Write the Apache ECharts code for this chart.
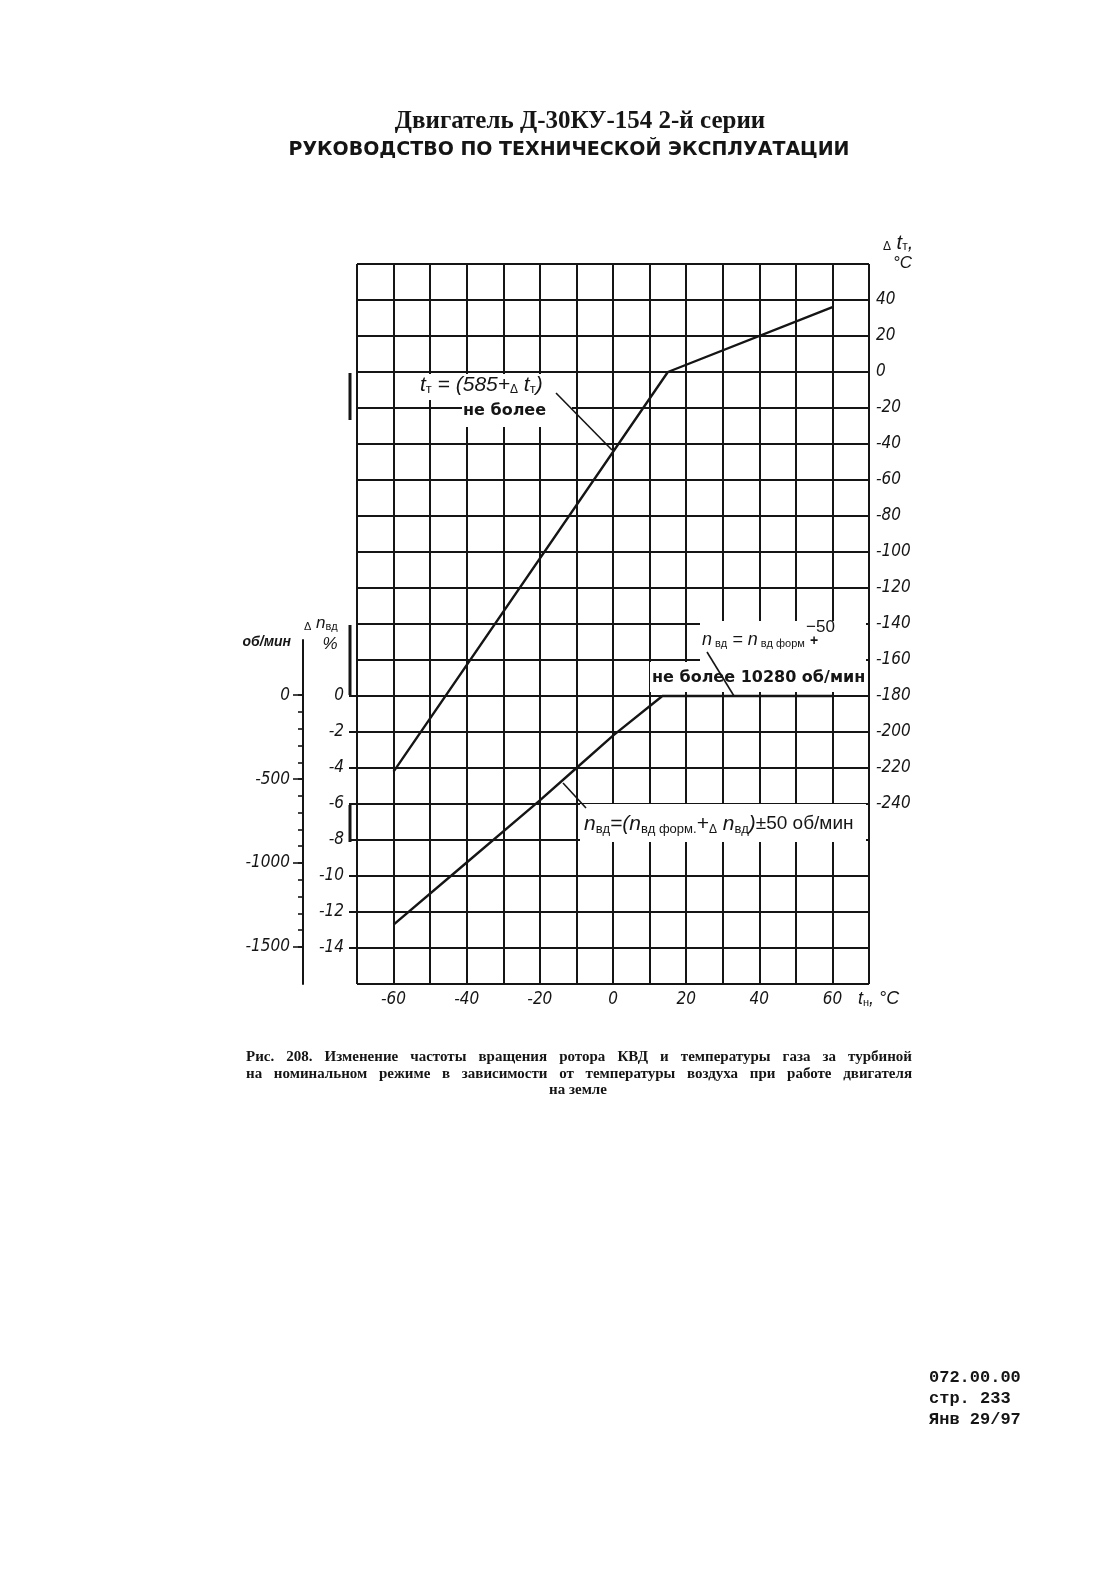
<!DOCTYPE html>
<html><head><meta charset="utf-8">
<script src="https://cdn.jsdelivr.net/npm/echarts@6/dist/echarts.min.js"></script>
<style>html,body{margin:0;padding:0;background:#fff}#c{width:1116px;height:1572px}</style>
</head><body><div id="c"></div>
<script>
// ---- data ----
const tempT = [-60, 15, 60];                 // t_н, °C  (gas temperature curve)
const deltaT = [-222, 0, 36];                // Δt_T, °C
const tempN = [-60, -40, -20, -10, 0, 13.5, 60];   // t_н, °C (rotor speed curve)
const deltaN = [-12.7, -9.25, -5.8, -4.0, -2.2, 0, 0]; // Δn_вд, %
const xTickLabels = [-60, -40, -20, 0, 20, 40, 60];
const dtTickLabels = [40, 20, 0, -20, -40, -60, -80, -100, -120, -140, -160, -180, -200, -220, -240];
const pctTickLabels = [0, -2, -4, -6, -8, -10, -12, -14];
const rpmTickLabels = [0, -500, -1000, -1500];
const rpmMinorTicks = [0, -100, -200, -300, -400, -500, -600, -700, -800, -900, -1000, -1100, -1200, -1300, -1400, -1500];
const captionLines = [
  'Рис. 208. Изменение частоты вращения ротора КВД и температуры газа за турбиной',
  'на номинальном режиме в зависимости от температуры воздуха при работе двигателя',
  'на земле'
];
const footerLines = ['072.00.00', 'стр. 233', 'Янв 29/97'];

const INK = '#151515';
const TICKFONT = "'Liberation Sans Narrow','DejaVu Sans Condensed',sans-serif";
const ITAL = "'Liberation Sans',sans-serif";

const chart = echarts.init(document.getElementById('c'), null, {renderer: 'canvas'});

const mctx = document.createElement('canvas').getContext('2d');
function justify(text, x0, x1, y, font) {
  mctx.font = font;
  const words = text.split(' ');
  const widths = words.map(w => mctx.measureText(w).width);
  const total = widths.reduce((a, b) => a + b, 0);
  const gap = (x1 - x0 - total) / (words.length - 1);
  let x = x0;
  return words.map((w, i) => {
    const el = {type: 'text', x: x, y: y, z: 20,
      style: {text: w, font: font, fill: INK, textAlign: 'left', align: 'left', textVerticalAlign: 'middle', verticalAlign: 'middle'}};
    x += widths[i] + gap;
    return el;
  });
}
function txt(x, y, text, font, align) {
  return {type: 'text', x: x, y: y, z: 20,
    style: {text: text, font: font, fill: INK, textAlign: align || 'left', align: align || 'left',
      textVerticalAlign: 'middle', verticalAlign: 'middle'}};
}
function rich(x, y, text, richStyles, align) {
  return {type: 'text', x: x, y: y, z: 20,
    style: {text: text, rich: richStyles, fill: INK, textAlign: align || 'left', align: align || 'left',
      textVerticalAlign: 'middle', verticalAlign: 'middle'}};
}
function seg(x1, y1, x2, y2, w) {
  return {type: 'line', z: 21, shape: {x1, y1, x2, y2}, style: {stroke: INK, lineWidth: w || 1.6}};
}
function box(x, y, w, h) {
  return {type: 'rect', z: 15, shape: {x, y, width: w, height: h}, style: {fill: '#fff'}};
}

const itS = (size) => ({font: `italic ${size}px ${ITAL}`, fill: INK, verticalAlign: 'middle'});
const subS = (size, pad) => ({font: `${size}px ${ITAL}`, fill: INK, verticalAlign: 'bottom', padding: [pad || 8, 0, 0, 0]});
const tri = (size) => ({font: `${size}px ${ITAL}`, fill: INK, verticalAlign: 'bottom', padding: [4, 0, 0, 0]});

const graphics = [
  // title
  txt(580, 122, 'Двигатель Д-30КУ-154 2-й серии', "bold 25px 'Liberation Serif',serif", 'center'),
  txt(569, 150, 'РУКОВОДСТВО ПО ТЕХНИЧЕСКОЙ ЭКСПЛУАТАЦИИ', "bold 19px 'DejaVu Sans',sans-serif", 'center'),
  // right axis header
  rich(883, 243, '{a|Δ}{i| t}{s|т}{i|,}', {a: tri(12), i: itS(20), s: subS(12)}),
  txt(893, 263, '°C', `italic 17px ${ITAL}`, 'left'),
  // left axes headers
  rich(304, 623, '{a|Δ}{i| n}{s|вд}', {a: tri(11), i: itS(17), s: subS(11)}),
  txt(330, 644, '%', `italic 17px ${ITAL}`, 'center'),
  txt(291, 642, 'об/мин', `italic bold 14px ${ITAL}`, 'right'),
  // remnants of the % axis line
  seg(350, 373, 350, 420, 3), seg(350, 625, 350, 695, 3), seg(350, 805, 350, 842, 3),
  // x axis name
  rich(858, 999, '{i|t}{s|н}{i|, °C}', {i: itS(18), s: subS(11)}),
  // annotation 1
  box(415, 374, 148, 26), box(462, 399, 110, 28),
  rich(420, 385, '{i|t}{s|т}{i| = (585+}{a|Δ}{i| t}{s|т}{i|)}', {i: itS(21), s: subS(13), a: tri(12)}),
  txt(463, 411, 'не более', "bold 16px 'DejaVu Sans',sans-serif", 'left'),
  seg(556, 393, 612, 450),
  // annotation 2
  box(700, 621, 166, 42), box(650, 662, 216, 30),
  rich(702, 640, '{i|n}{s| вд}{i| = n}{s| вд форм}', {i: itS(18), s: subS(11)}),
  txt(806, 627, '−50', `17px ${ITAL}`, 'left'),
  txt(810, 641, '+', `bold 14px ${ITAL}`, 'left'),
  txt(652, 678, 'не более 10280 об/мин', "bold 16px 'DejaVu Sans',sans-serif", 'left'),
  seg(707, 652, 734, 696),
  // annotation 3
  box(580, 804, 286, 38),
  rich(584, 824, '{i|n}{s|вд}{i|=(n}{s|вд форм.}{i|+}{a|Δ}{i| n}{s|вд}{i|)}{r|±50 об/мин}',
       {i: itS(21), s: subS(13, 10), a: tri(12), r: {font: "19px 'Liberation Sans',sans-serif", fill: INK, verticalAlign: 'middle'}}),
  seg(563, 783, 586, 808)
];
// caption
const capFont = "bold 15px 'Liberation Serif',serif";
graphics.push(...justify(captionLines[0], 246, 912, 1057, capFont));
graphics.push(...justify(captionLines[1], 246, 912, 1074, capFont));
graphics.push(txt(578, 1090, captionLines[2], capFont, 'center'));
// footer
footerLines.forEach((s, i) => graphics.push(txt(929, [1378, 1399, 1420][i], s, "bold 17px 'Liberation Mono',monospace", 'left')));

const tickFontStyle = {fontFamily: TICKFONT, fontStyle: 'italic', fontSize: 17, color: INK};
const gridLine = {show: true, lineStyle: {color: INK, width: 2}};

const option = {
  animation: false,
  backgroundColor: '#fff',
  grid: [
    {left: 357, top: 264, width: 512, height: 720},
    {left: 303, top: 640, width: 1, height: 344}
  ],
  xAxis: [
    {gridIndex: 0, type: 'value', min: -70, max: 70, interval: 10,
      axisLine: {show: false}, axisTick: {show: false}, splitLine: gridLine,
      axisLabel: Object.assign({customValues: xTickLabels, margin: 7}, tickFontStyle)},
    {gridIndex: 1, type: 'value', min: 0, max: 1, show: false}
  ],
  yAxis: [
    // Δt_T, °C  (right)
    {gridIndex: 0, type: 'value', position: 'right', min: -340, max: 60, interval: 20,
      axisLine: {show: false}, splitLine: {show: false},
      axisTick: {show: true, customValues: dtTickLabels, length: 4, lineStyle: {color: INK, width: 2}},
      axisLabel: Object.assign({customValues: dtTickLabels, margin: 7}, tickFontStyle)},
    // Δn_вд, %  (left)
    {gridIndex: 0, type: 'value', position: 'left', min: -16, max: 24, interval: 2,
      axisLine: {show: false}, splitLine: {show: false},
      axisTick: {show: true, customValues: pctTickLabels, length: 8, lineStyle: {color: INK, width: 2}},
      axisLabel: Object.assign({customValues: pctTickLabels, margin: 13}, tickFontStyle)},
    // об/мин minor ticks + line
    {gridIndex: 1, type: 'value', position: 'left', min: -1721, max: 329,
      axisLine: {show: true, lineStyle: {color: INK, width: 2}}, splitLine: {show: false},
      axisTick: {show: true, customValues: rpmMinorTicks, length: 5, lineStyle: {color: INK, width: 1.6}},
      axisLabel: {show: false}},
    // об/мин major ticks + labels
    {gridIndex: 1, type: 'value', position: 'left', min: -1721, max: 329,
      axisLine: {show: false}, splitLine: {show: false},
      axisTick: {show: true, customValues: rpmTickLabels, length: 10, lineStyle: {color: INK, width: 1.6}},
      axisLabel: Object.assign({customValues: rpmTickLabels, margin: 13, formatter: v => String(v)}, tickFontStyle)},
    // horizontal grid lines (same scale as Δt_T)
    {gridIndex: 0, type: 'value', position: 'right', min: -340, max: 60, interval: 20,
      axisLine: {show: false}, axisTick: {show: false}, axisLabel: {show: false}, splitLine: gridLine}
  ],
  series: [
    {name: 'Δt_T', type: 'line', xAxisIndex: 0, yAxisIndex: 0, symbol: 'none', z: 5,
      lineStyle: {color: INK, width: 2.4},
      data: tempT.map((t, i) => [t, deltaT[i]])},
    {name: 'Δn_вд', type: 'line', xAxisIndex: 0, yAxisIndex: 1, symbol: 'none', z: 5,
      lineStyle: {color: INK, width: 2.4},
      data: tempN.map((t, i) => [t, deltaN[i]])}
  ],
  graphic: {elements: graphics}
};
chart.setOption(option);
</script></body></html>
